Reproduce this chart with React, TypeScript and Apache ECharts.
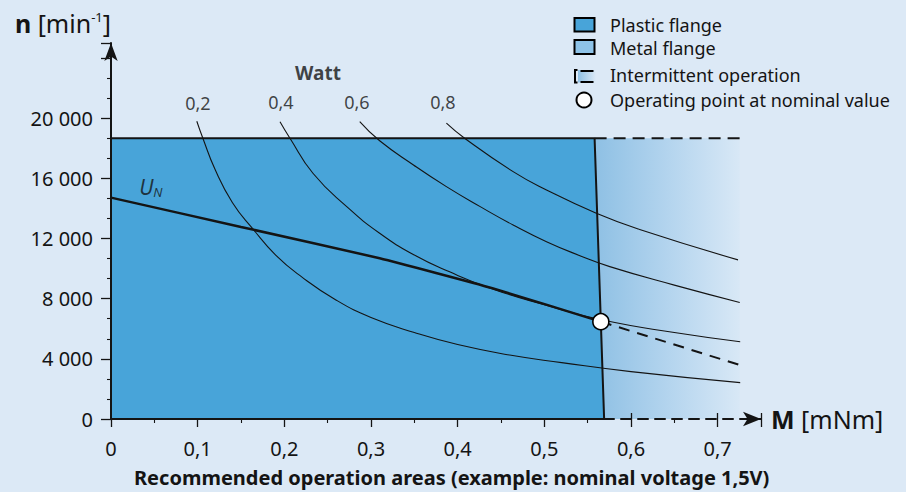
import React, { useEffect, useRef } from "react";
import * as echarts from "echarts";

const FONT = "'Noto Sans', 'Open Sans', sans-serif";
const INK = "#141414";
const BG = "#dce9f6";
const PLASTIC = "#48a4d9";
const METAL = "#8ec3e8";

// Axis tick values
const xTicks = [0, 0.1, 0.2, 0.3, 0.4, 0.5, 0.6, 0.7];
const yTicks = [0, 4000, 8000, 12000, 16000, 20000];

// Operating region (plastic flange): [M mNm, n min^-1]
const plasticArea = [
  [0, 18670],
  [0.558, 18670],
  [0.569, 0],
];
const plasticBottom = [
  [0, 0],
  [0.569, 0],
];
// Intermittent operation zone (top dashed edge)
const intermittentTop = [
  [0.558, 18670],
  [0.7255, 18670],
];

// Power hyperbolas
const watt02 = [
  [0.099, 19800], [0.106, 18670], [0.12, 16600], [0.14, 14400], [0.164, 12620],
  [0.19, 10900], [0.22, 9450], [0.26, 7900], [0.3, 6750], [0.35, 5750],
  [0.4, 4950], [0.46, 4250], [0.52, 3750], [0.6, 3150], [0.726, 2420],
];
const watt04 = [
  [0.195, 19770], [0.2065, 18670], [0.233, 16340], [0.272, 14120], [0.31, 12350],
  [0.35, 10900], [0.39, 9800], [0.44, 8650], [0.5, 7600], [0.566, 6600],
  [0.65, 5750], [0.726, 5140],
];
const watt06 = [
  [0.287, 19770], [0.31, 18500], [0.349, 16890], [0.387, 15450], [0.426, 14120],
  [0.464, 12900], [0.5025, 11790], [0.541, 10860], [0.5755, 10130], [0.65, 8900],
  [0.7255, 7750],
];
const watt08 = [
  [0.387, 19670], [0.408, 18670], [0.464, 16450], [0.5025, 15230], [0.56, 13680],
  [0.61, 12600], [0.7235, 10580],
];

// Nominal voltage characteristic U_N
const unSolid = [
  [0, 14720], [0.15, 12770], [0.31, 10690], [0.44, 8700], [0.5652, 6473],
];
const unDashed = [
  [0.5652, 6473], [0.7255, 3590],
];
const operatingPoint = [[0.5652, 6473]];

// Curve labels
const wattLabels = [
  { value: [0.1003, 21017], name: "0,2" },
  { value: [0.196, 21084], name: "0,4" },
  { value: [0.2837, 21084], name: "0,6" },
  { value: [0.383, 21084], name: "0,8" },
];
const wattTitle = [{ value: [0.2388, 23013], name: "Watt" }];
const unLabel = [{ value: [0.046, 15430], name: "U_N" }];

const fmtY = (v: number) => {
  if (!yTicks.includes(v)) return "";
  return v === 0 ? "0" : String(v).replace(/\B(?=(\d{3})+(?!\d))/g, " ");
};
const fmtX = (v: number) => {
  const r = Math.round(v * 1000) / 1000;
  if (!xTicks.some((t) => Math.abs(t - r) < 1e-6)) return "";
  return r === 0 ? "0" : r.toFixed(1).replace(".", ",");
};

const thinCurve = (data: number[][]) => ({
  type: "line",
  data,
  smooth: 0.5,
  showSymbol: false,
  symbol: "none",
  silent: true,
  z: 3,
  lineStyle: { color: INK, width: 1.1 },
});

export default function App() {
  const ref = useRef<HTMLDivElement>(null);
  useEffect(() => {
    document.body.style.margin = "0";
    const chart = echarts.init(ref.current!, null, { renderer: "svg" });
    const option: any = {
      animation: false,
      backgroundColor: BG,
      grid: { left: 111, right: 145, top: 43, bottom: 73 },
      title: {
        text: "Recommended operation areas (example: nominal voltage 1,5V)",
        left: 134,
        top: 467,
        padding: 0,
        textStyle: { fontSize: 20, lineHeight: 20, fontWeight: "bold", fontFamily: FONT, color: INK },
      },
      xAxis: [
        {
          type: "value",
          min: 0,
          max: 0.75,
          interval: 0.1,
          z: 5,
          axisLine: {
            show: true,
            symbol: ["none", "arrow"],
            symbolSize: [11, 18],
            lineStyle: { color: INK, width: 2, type: [10, 7] },
          },
          axisTick: { show: true, length: 8, lineStyle: { color: INK, width: 1.3 } },
          minorTick: { show: true, splitNumber: 2, length: 4, lineStyle: { color: INK, width: 1.1 } },
          axisLabel: {
            formatter: fmtX,
            margin: 19,
            fontSize: 20,
            color: INK,
            fontFamily: FONT,
            showMaxLabel: false,
          },
          splitLine: { show: false },
          name: "{b|M} [mNm]",
          nameLocation: "end",
          nameGap: 10,
          nameTextStyle: {
            fontSize: 25,
            fontFamily: FONT,
            color: INK,
            verticalAlign: "middle",
            align: "left",
            rich: { b: { fontSize: 25, fontWeight: "bold", fontFamily: FONT, color: INK } },
          },
        },
        {
          type: "value",
          min: 0,
          max: 0.75,
          interval: 0.1,
          z: 1.5,
          position: "bottom",
          axisLine: { show: false },
          axisTick: { show: true, inside: true, length: 6, lineStyle: { color: INK, width: 1.3 } },
          axisLabel: { show: false },
          splitLine: { show: false },
        },
      ],
      yAxis: {
        type: "value",
        min: 0,
        max: 25000,
        interval: 4000,
        z: 5,
        axisLine: {
          show: true,
          symbol: ["none", "arrow"],
          symbolSize: [10, 18],
          lineStyle: { color: INK, width: 2 },
        },
        axisTick: { show: true, length: 10, lineStyle: { color: INK, width: 1.3 } },
        minorTick: { show: true, splitNumber: 3, length: 4, lineStyle: { color: INK, width: 1.1 } },
        axisLabel: { formatter: fmtY, margin: 18, fontSize: 20, color: INK, fontFamily: FONT },
        splitLine: { show: false },
        name: "{b|n} [min{s|-1}]",
        nameLocation: "end",
        nameGap: 20,
        nameTextStyle: {
          fontSize: 25,
          fontFamily: FONT,
          color: INK,
          align: "right",
          verticalAlign: "middle",
          rich: {
            b: { fontSize: 25, fontWeight: "bold", fontFamily: FONT, color: INK },
            s: { fontSize: 13, fontFamily: FONT, color: INK, verticalAlign: "top", lineHeight: 14 },
          },
        },
      },
      graphic: [
        { type: "rect", shape: { x: 574.5, y: 18, width: 20, height: 13.5 }, style: { fill: PLASTIC, stroke: "#000", lineWidth: 2 } },
        { type: "text", style: { text: "Plastic flange", x: 610, y: 25, verticalAlign: "middle", fontSize: 18, fontFamily: FONT, fill: INK } },
        { type: "rect", shape: { x: 574.5, y: 40, width: 20, height: 14 }, style: { fill: METAL, stroke: "#000", lineWidth: 2 } },
        { type: "text", style: { text: "Metal flange", x: 610, y: 47.5, verticalAlign: "middle", fontSize: 18, fontFamily: FONT, fill: INK } },
        {
          type: "rect",
          shape: { x: 578, y: 70, width: 18, height: 12.5 },
          style: {
            fill: new echarts.graphic.LinearGradient(0, 0, 1, 0, [
              { offset: 0, color: "#8ec0e4" },
              { offset: 1, color: BG },
            ]),
          },
        },
        { type: "polyline", shape: { points: [[577.5, 70], [575, 70], [575, 82.5], [577.5, 82.5]] }, style: { stroke: "#000", lineWidth: 2, fill: null } },
        { type: "line", shape: { x1: 580.5, y1: 71, x2: 593.5, y2: 71 }, style: { stroke: "#000", lineWidth: 2 } },
        { type: "line", shape: { x1: 580.5, y1: 82, x2: 593.5, y2: 82 }, style: { stroke: "#000", lineWidth: 2 } },
        { type: "text", style: { text: "Intermittent operation", x: 610, y: 75, verticalAlign: "middle", fontSize: 18, fontFamily: FONT, fill: INK } },
        { type: "circle", shape: { cx: 584, cy: 100, r: 7.5 }, style: { fill: "#fff", stroke: "#000", lineWidth: 2 } },
        { type: "text", style: { text: "Operating point at nominal value", x: 610, y: 100, verticalAlign: "middle", fontSize: 18, fontFamily: FONT, fill: INK } },
      ],
      series: [
        {
          type: "line",
          data: intermittentTop,
          symbol: "none",
          silent: true,
          z: 1,
          lineStyle: { color: INK, width: 2, type: [12, 7] },
          areaStyle: {
            opacity: 1,
            color: new echarts.graphic.LinearGradient(0, 0, 1, 0, [
              { offset: 0, color: "#8ec0e4" },
              { offset: 0.5, color: "#b3d4ee" },
              { offset: 1, color: "#d8e8f6" },
            ]),
          },
        },
        {
          type: "line",
          data: plasticArea,
          symbol: "none",
          silent: true,
          z: 2,
          lineStyle: { color: INK, width: 2 },
          areaStyle: { color: PLASTIC, opacity: 1 },
        },
        {
          type: "line",
          data: plasticBottom,
          symbol: "none",
          silent: true,
          z: 2,
          lineStyle: { color: INK, width: 2 },
        },
        thinCurve(watt02),
        thinCurve(watt04),
        thinCurve(watt06),
        thinCurve(watt08),
        {
          type: "line",
          data: unSolid,
          symbol: "none",
          smooth: 0.15,
          silent: true,
          z: 4,
          lineStyle: { color: INK, width: 2.5 },
        },
        {
          type: "line",
          data: unDashed,
          symbol: "none",
          silent: true,
          z: 4,
          lineStyle: { color: INK, width: 2, type: [11, 8] },
        },
        {
          type: "scatter",
          data: operatingPoint,
          symbol: "circle",
          symbolSize: 16,
          silent: true,
          z: 6,
          itemStyle: { color: "#fff", borderColor: "#000", borderWidth: 1.6, opacity: 1 },
        },
        {
          type: "scatter",
          data: wattLabels,
          symbolSize: 0,
          silent: true,
          z: 6,
          label: { show: true, position: "inside", formatter: "{b}", fontSize: 18, fontFamily: FONT, color: INK },
        },
        {
          type: "scatter",
          data: wattTitle,
          symbolSize: 0,
          silent: true,
          z: 6,
          label: { show: true, position: "inside", formatter: "{b}", fontSize: 19, fontWeight: "bold", fontFamily: FONT, color: INK },
        },
        {
          type: "scatter",
          data: unLabel,
          symbolSize: 0,
          silent: true,
          z: 6,
          label: {
            show: true,
            position: "inside",
            formatter: "{u|U}{n|N}",
            rich: {
              u: { fontSize: 21, fontStyle: "italic", fontFamily: FONT, color: INK, lineHeight: 24 },
              n: { fontSize: 13, fontStyle: "italic", fontFamily: FONT, color: INK, verticalAlign: "bottom", lineHeight: 18 },
            },
          },
        },
      ],
    };
    chart.setOption(option);
    return () => chart.dispose();
  }, []);
  return <div ref={ref} style={{ width: 906, height: 492 }} />;
}
